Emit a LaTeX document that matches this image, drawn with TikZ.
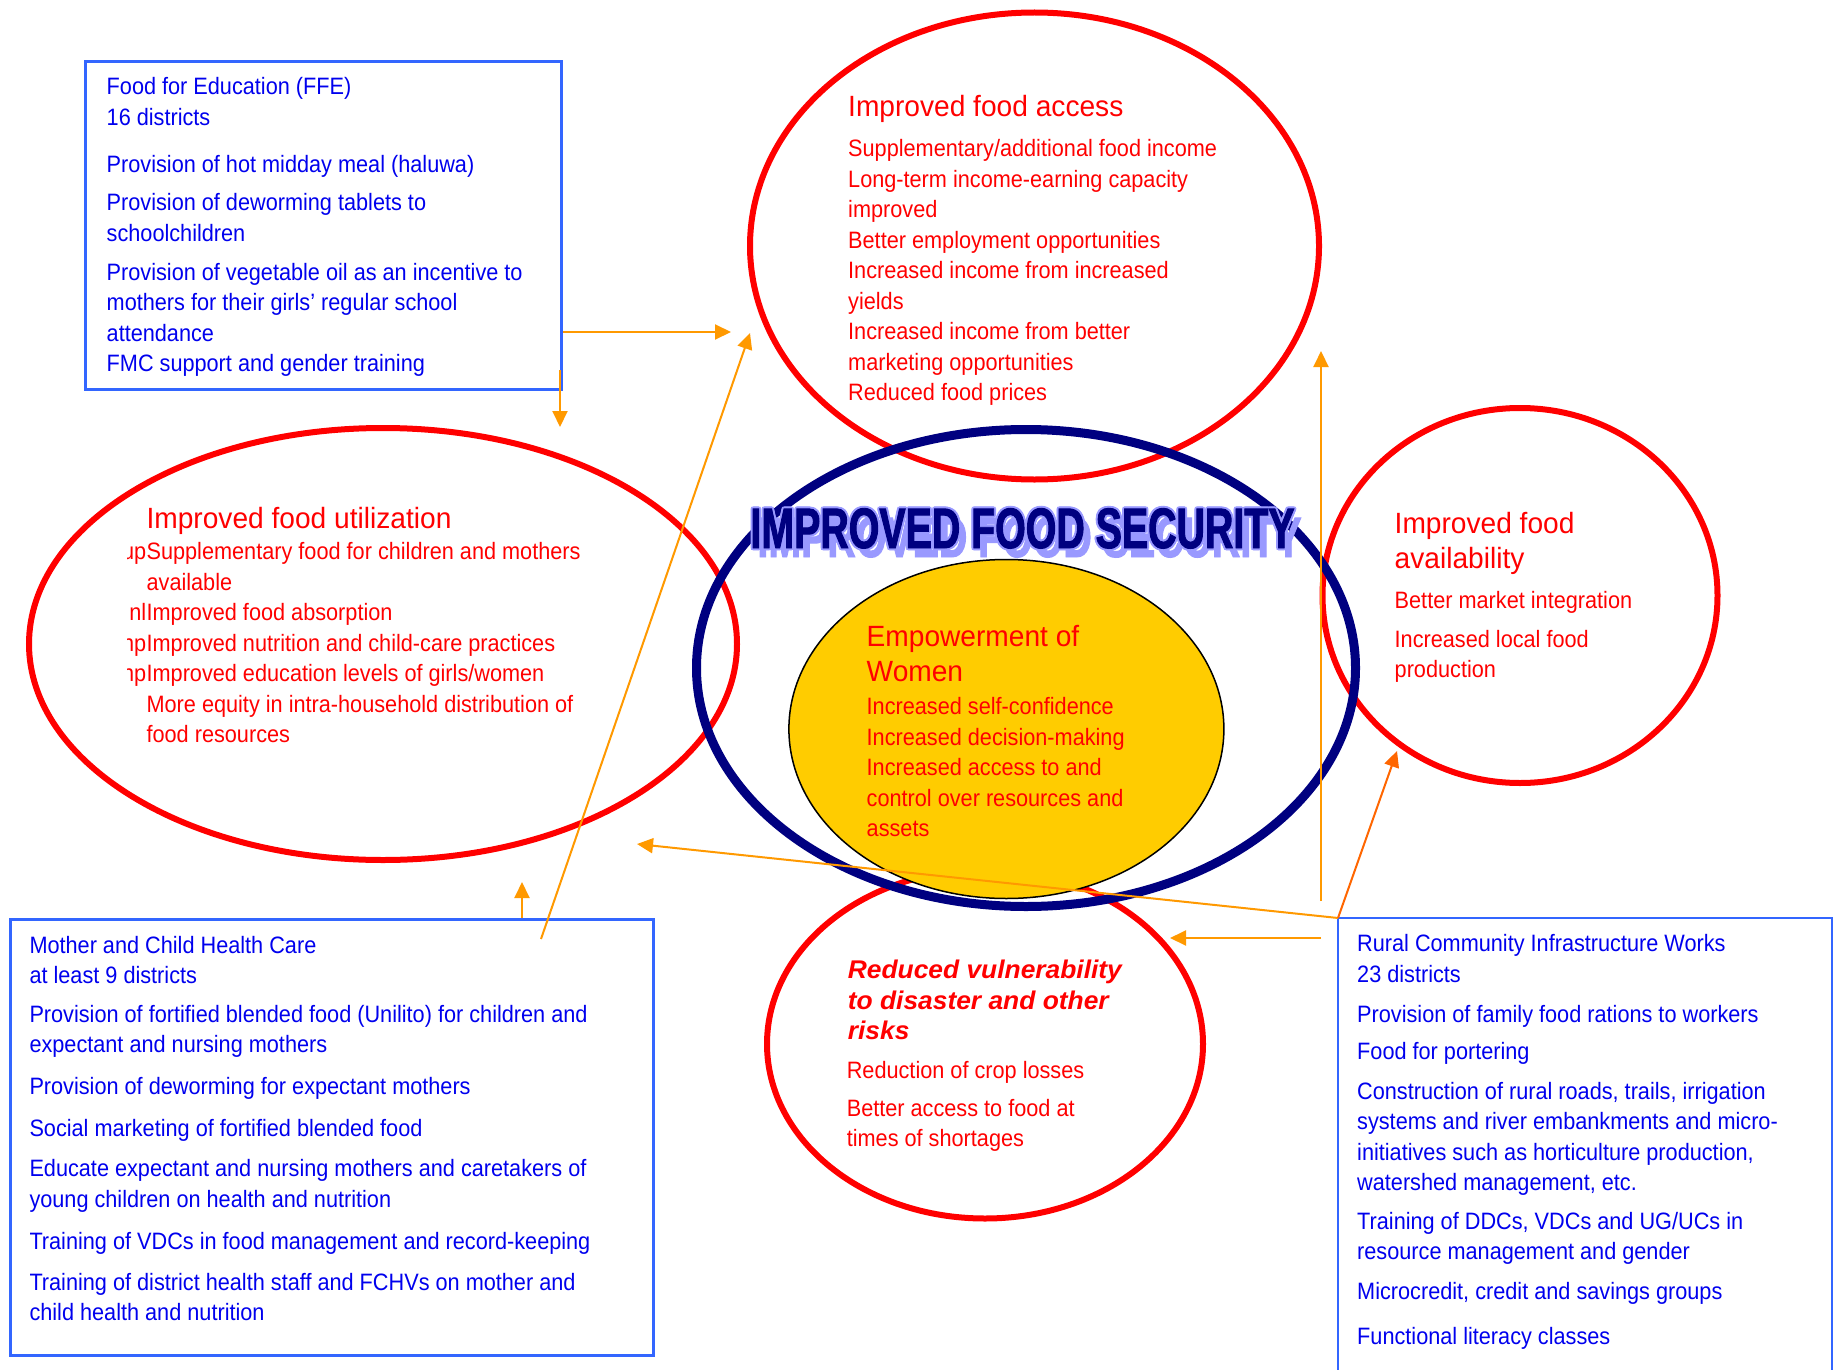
\documentclass[tikz,border=0pt]{standalone}
\usepackage{fontspec}
\setmainfont{Liberation Sans}
\newfontfamily\bodyfont{Liberation Sans}[FakeStretch=0.915]
\newfontfamily\headfont{Liberation Sans}[FakeStretch=0.96]
\newfontfamily\vulnfont{Liberation Sans}[FakeStretch=1.03]
\newfontfamily\impactfont{Liberation Sans}[FakeStretch=0.69,FakeBold=1.6]
\usetikzlibrary{arrows.meta,shapes.geometric}
\definecolor{boxblue}{HTML}{3366FF}
\definecolor{txtblue}{HTML}{0000EE}
\definecolor{txtred}{HTML}{FF0000}
\definecolor{ellred}{HTML}{FF0000}
\definecolor{navyc}{HTML}{000080}
\definecolor{lav}{HTML}{9999FF}
\definecolor{gold}{HTML}{FFCC00}
\definecolor{arrorange}{HTML}{FF9900}
\definecolor{arrdark}{HTML}{FF6600}
\newcommand\textlines[4]{%
  \foreach \yy/\tx [count=\k] in {#4} {\node[#3] (#1\k) at (#2,\yy) {\tx};}}
\begin{document}
\begin{tikzpicture}[x=1pt,y=-1pt,
  bodyf/.style={font=\bodyfont\fontsize{23.7}{28}\selectfont, inner sep=0pt, anchor=base west},
  btxt/.style={bodyf, text=txtblue},
  rtxt/.style={bodyf, text=txtred},
  rhead/.style={font=\headfont\fontsize{29.3}{34}\selectfont, inner sep=0pt, anchor=base west, text=txtred},
  vhead/.style={font=\vulnfont\bfseries\itshape\fontsize{25.6}{30}\selectfont, inner sep=0pt, anchor=base west, text=txtred},
  redell/.style={ellipse, draw=ellred, line width=6pt, inner sep=0pt},
  bluebox/.style={draw=boxblue, line width=3pt, inner sep=0pt, anchor=north west},
  bigtitle/.style={font=\impactfont\bfseries\fontsize{57}{60}\selectfont, inner sep=0pt, anchor=base},
  arr/.style={draw=arrorange, line width=2pt, -{Triangle[length=16pt,width=15pt]}},
  arrd/.style={draw=arrdark, line width=2pt, -{Triangle[length=16pt,width=15pt]}}
]
\useasboundingbox (0,0) rectangle (1836,1370);
\fill[white] (0,0) rectangle (1836,1370);

% ellipses
\node[redell, minimum width=569pt, minimum height=467pt] (access) at (1034.5,246) {};
\node[redell, minimum width=708pt, minimum height=432pt] (util) at (383,644) {};
\node[redell, minimum width=395pt, minimum height=375pt] (avail) at (1520,595.5) {};
\node[redell, minimum width=436pt, minimum height=349pt] (vuln) at (985,1044) {};
\node[ellipse, draw=navyc, line width=9pt, inner sep=0pt, minimum width=659pt, minimum height=477pt] (fs) at (1026,668) {};
\node[ellipse, draw=black, fill=gold, line width=1.5pt, inner sep=0pt, minimum width=435pt, minimum height=339pt] (women) at (1006.4,729) {};

% boxes
\node[bluebox, minimum width=476pt, minimum height=328pt] (ffebox) at (84,60) {};
\node[bluebox, minimum width=643pt, minimum height=436pt] (mchbox) at (9,918) {};
\coordinate (rcorner) at (1338,918);
\draw[boxblue, line width=2pt] (1338,1380) -- (rcorner) -- (1832,918) -- (1832,1380);

% FFE text
\textlines{ffe}{106.5}{btxt}{95/{Food for Education (FFE)},125/{16 districts},172/{Provision of hot midday meal (haluwa)},210.5/{Provision of deworming tablets to},241/{schoolchildren},280/{Provision of vegetable oil as an incentive to},310.5/{mothers for their girls’ regular school},341/{attendance},371.5/{FMC support and gender training}}

% access text
\node[rhead] (acct) at (848,117) {Improved food access};
\textlines{acc}{848}{rtxt}{156.7/{Supplementary/additional food income},187.2/{Long-term income-earning capacity},217.7/{improved},248.2/{Better employment opportunities},278.7/{Increased income from increased},309.2/{yields},339.7/{Increased income from better},370.2/{marketing opportunities},400.7/{Reduced food prices}}

% utilization text
\node[rhead] (utit) at (146.4,528.5) {Improved food utilization};
\textlines{ut}{146.4}{rtxt}{559.5/{Supplementary food for children and mothers},590/{available},620.5/{Improved food absorption},651/{Improved nutrition and child-care practices},681.5/{Improved education levels of girls/women},712/{More equity in intra-household distribution of},742.5/{food resources}}
\begin{scope}
\clip (127,530) rectangle (146.4,700);
\node[rtxt, anchor=base east] (fr1) at (146.4,559.5) {up};
\node[rtxt, anchor=base east] (fr2) at (146.4,620.5) {nl};
\node[rtxt, anchor=base east] (fr3) at (146.4,651) {np};
\node[rtxt, anchor=base east] (fr4) at (146.4,681.5) {np};
\end{scope}

% availability text
\node[rhead] (avt1) at (1394.5,533) {Improved food};
\node[rhead] (avt2) at (1394.5,568.5) {availability};
\textlines{av}{1394.5}{rtxt}{608.5/{Better market integration},647/{Increased local food},677.5/{production}}

% women text
\node[rhead] (wt1) at (866.5,646) {Empowerment of};
\node[rhead] (wt2) at (866.5,681.5) {Women};
\textlines{wo}{866.5}{rtxt}{714/{Increased self-confidence},745/{Increased decision-making},775.5/{Increased access to and},806/{control over resources and},836.5/{assets}}

% vulnerability text
\node[vhead] (vt1) at (847.7,978.5) {Reduced vulnerability};
\node[vhead] (vt2) at (847.7,1009) {to disaster and other};
\node[vhead] (vt3) at (847.7,1039.5) {risks};
\textlines{vu}{846.6}{rtxt}{1078.3/{Reduction of crop losses},1116/{Better access to food at},1146.5/{times of shortages}}

% mother and child text
\textlines{mc}{29.3}{btxt}{953/{Mother and Child Health Care},983.5/{at least 9 districts},1022/{Provision of fortified blended food (Unilito) for children and},1052.5/{expectant and nursing mothers},1094.6/{Provision of deworming for expectant mothers},1136.8/{Social marketing of fortified blended food},1176.6/{Educate expectant and nursing mothers and caretakers of},1207.1/{young children on health and nutrition},1249/{Training of VDCs in food management and record-keeping},1290/{Training of district health staff and FCHVs on mother and},1320.5/{child health and nutrition}}

% rural text
\textlines{ru}{1357}{btxt}{951.7/{Rural Community Infrastructure Works},982.2/{23 districts},1022/{Provision of family food rations to workers},1059.5/{Food for portering},1099/{Construction of rural roads, trails, irrigation},1129.5/{systems and river embankments and micro-},1160/{initiatives such as horticulture production,},1190.5/{watershed management, etc.},1229/{Training of DDCs, VDCs and UG/UCs in},1259.5/{resource management and gender},1299.5/{Microcredit, credit and savings groups},1344/{Functional literacy classes}}

% big title: shadow, outline, face
\node[bigtitle, text=lav] (tshadow) at (1029.5,557) {IMPROVED FOOD SECURITY};
\foreach \dx/\dy in {-2/0,2/0,0/-2,0/2,-1.5/-1.5,1.5/1.5,-1.5/1.5,1.5/-1.5}
  \node[bigtitle, text=lav] (toutline) at (1022.5+\dx,548+\dy) {IMPROVED FOOD SECURITY};
\node[bigtitle, text=navyc] (ftitle) at (1022.5,548) {IMPROVED FOOD SECURITY};

% arrows
\coordinate (a1t) at (731,332);
\draw[arr] (ffebox.east |- a1t) -- (a1t);
\coordinate (a2s) at (560,370);
\coordinate (a2t) at (560,427);
\draw[arr] (a2s) -- (a2t);
\coordinate (a3s) at (541,939);
\coordinate (a3t) at (750,333);
\draw[arr] (a3s) -- (a3t);
\coordinate (a4t) at (522,882);
\draw[arr] (mchbox.north -| a4t) -- (a4t);
\coordinate (a5t) at (637,844);
\draw[arr] (rcorner) -- (a5t);
\coordinate (a6s) at (1321,938);
\coordinate (a6t) at (1170,938);
\draw[arr] (a6s) -- (a6t);
\coordinate (a7s) at (1321,901);
\coordinate (a7t) at (1321,351);
\draw[arr] (a7s) -- (a7t);
\coordinate (a8t) at (1397,751);
\draw[arrd] (rcorner) -- (a8t);
\end{tikzpicture}
\end{document}
